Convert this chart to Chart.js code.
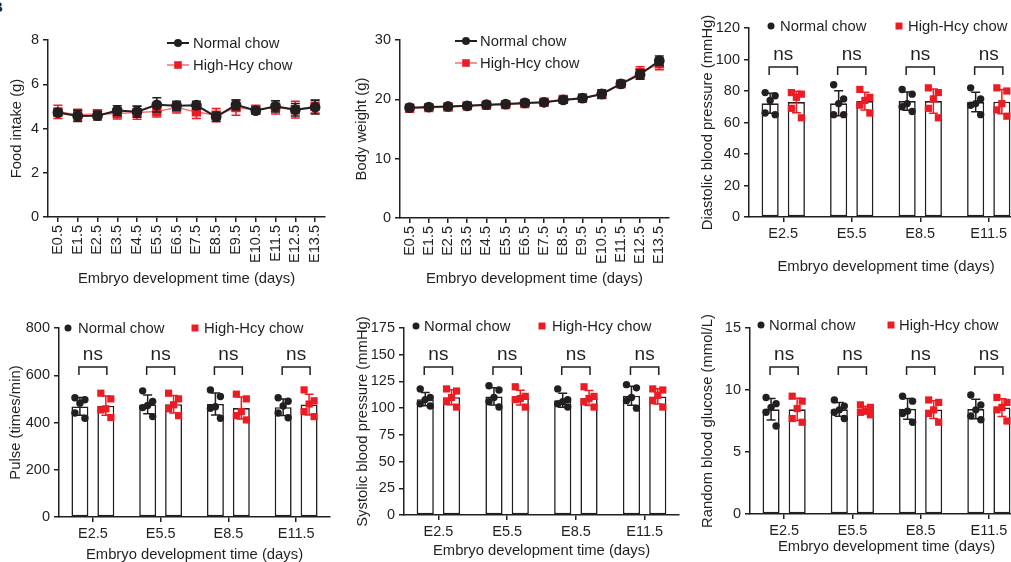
<!DOCTYPE html>
<html>
<head>
<meta charset="utf-8">
<script src="https://cdn.jsdelivr.net/npm/chart.js@4.4.0/dist/chart.umd.min.js"></script>
<style>
  body { margin: 0; width: 1011px; height: 562px; overflow: hidden; background: #fff; position: relative; font-family: "Liberation Sans", Arial, sans-serif; }
  canvas { position: absolute; }
  #panel-label { position: absolute; left: -8px; top: -2px; font-weight: bold; font-size: 15px; color: #231f20; }
</style>
</head>
<body>
<div id="panel-label">B</div>
<script>
// ---- data ----
const DAYS = ['E0.5', 'E1.5', 'E2.5', 'E3.5', 'E4.5', 'E5.5', 'E6.5', 'E7.5', 'E8.5', 'E9.5', 'E10.5', 'E11.5', 'E12.5', 'E13.5'];
const GROUPS = ['E2.5', 'E5.5', 'E8.5', 'E11.5'];
const SIGNIFICANCE = ['ns', 'ns', 'ns', 'ns'];

const FOOD_NORMAL = [4.72, 4.57, 4.58, 4.81, 4.76, 5.07, 5.03, 5.05, 4.53, 5.07, 4.81, 5.0, 4.85, 4.96];
const FOOD_NORMAL_SD = [0.15, 0.25, 0.2, 0.22, 0.25, 0.32, 0.2, 0.18, 0.2, 0.22, 0.15, 0.25, 0.28, 0.3];
const FOOD_HCY = [4.75, 4.62, 4.65, 4.68, 4.72, 4.77, 4.95, 4.75, 4.6, 4.95, 4.85, 4.95, 4.85, 5.0];
const FOOD_HCY_SD = [0.3, 0.25, 0.2, 0.25, 0.3, 0.25, 0.25, 0.3, 0.3, 0.35, 0.2, 0.3, 0.38, 0.3];

const WEIGHT_NORMAL = [18.6, 18.7, 18.8, 18.9, 19.1, 19.2, 19.4, 19.5, 19.9, 20.2, 20.9, 22.6, 24.2, 26.5];
const WEIGHT_NORMAL_SD = [0.4, 0.4, 0.4, 0.4, 0.4, 0.4, 0.4, 0.4, 0.5, 0.6, 0.7, 0.5, 0.8, 0.8];
const WEIGHT_HCY = [18.5, 18.6, 18.7, 18.9, 19.0, 19.1, 19.3, 19.5, 20.0, 20.2, 20.8, 22.6, 24.5, 26.0];
const WEIGHT_HCY_SD = [0.6, 0.5, 0.5, 0.5, 0.4, 0.4, 0.4, 0.4, 0.5, 0.5, 0.6, 0.5, 1.0, 1.0];

// five animals per group and day
const DIA_NORMAL = [[79, 77, 74, 66, 65], [84, 75, 72, 65, 65], [81, 78, 72, 70, 67], [82, 75, 72, 71, 65]];
const DIA_HCY = [[79, 78, 76, 69, 63], [81, 76, 74, 71, 66], [82, 79, 75, 69, 63], [82, 80, 72, 68, 64]];
const PULSE_NORMAL = [[505, 496, 482, 440, 418], [534, 489, 472, 463, 425], [538, 510, 467, 460, 418], [505, 490, 470, 440, 420]];
const PULSE_HCY = [[524, 500, 458, 453, 421], [524, 500, 475, 458, 429], [520, 500, 446, 429, 411], [538, 492, 478, 446, 425]];
const SYS_NORMAL = [[118, 110, 108, 104, 102], [121, 117, 110, 106, 101], [118, 108, 106, 104, 101], [122, 119, 110, 107, 100]];
const SYS_HCY = [[118, 116, 110, 106, 101], [120, 111, 109, 108, 101], [120, 111, 109, 106, 101], [118, 117, 112, 107, 101]];
const GLU_NORMAL = [[9.4, 8.9, 8.6, 8.2, 7.1], [9.2, 8.7, 8.4, 8.2, 7.7], [9.5, 9.1, 8.3, 8.1, 7.4], [9.6, 8.8, 8.4, 7.9, 7.6]];
const GLU_HCY = [[9.5, 9.1, 8.5, 7.7, 7.4], [8.8, 8.6, 8.3, 8.2, 8.0], [9.2, 9.0, 8.4, 8.1, 7.4], [9.4, 9.0, 8.6, 8.4, 7.5]];

// ---- styles ----
const INK = '#231f20';
const RED = '#ec1c24';
const PINK = '#f4777c';
const FONT = '"Liberation Sans", Arial, sans-serif';
const TICK_FONT = { family: FONT, size: 14.5 };
const TITLE_FONT = { family: FONT, size: 14.8, lineHeight: 1 };
const JITTER = [-5, 5, 0, -5, 5];
const X_TITLE = 'Embryo development time (days)';

function mean(v) { return v.reduce((a, b) => a + b, 0) / v.length; }
function stdev(v) {
  const m = mean(v);
  return Math.sqrt(v.reduce((a, b) => a + (b - m) ** 2, 0) / (v.length - 1));
}

function drawMarker(ctx, shape, x, y, color, r) {
  ctx.fillStyle = color;
  ctx.beginPath();
  if (shape === 'rect') ctx.rect(x - r, y - r, 2 * r, 2 * r);
  else ctx.arc(x, y, r, 0, Math.PI * 2);
  ctx.fill();
}

const errorBars = {
  id: 'errorBars',
  afterDatasetDraw(chart, args) {
    const ds = chart.data.datasets[args.index];
    const y = chart.scales.y;
    const ctx = chart.ctx;
    ctx.save();
    ctx.lineWidth = 1.5;
    ctx.strokeStyle = ds.whiskerColor;
    args.meta.data.forEach((el, i) => {
      const m = ds.data[i];
      const e = ds.points ? stdev(ds.points[i]) : ds.errors[i];
      const top = y.getPixelForValue(m + e), bottom = y.getPixelForValue(m - e);
      ctx.beginPath();
      ctx.moveTo(el.x, top); ctx.lineTo(el.x, bottom);
      ctx.moveTo(el.x - 4.5, top); ctx.lineTo(el.x + 4.5, top);
      ctx.moveTo(el.x - 4.5, bottom); ctx.lineTo(el.x + 4.5, bottom);
      ctx.stroke();
      if (ds.points) {
        ds.points[i].forEach((v, j) => {
          drawMarker(ctx, ds.markerShape, el.x + JITTER[j], y.getPixelForValue(v), ds.whiskerColor, ds.markerShape === 'rect' ? 3.6 : 3.7);
        });
      }
    });
    ctx.restore();
  }
};

const markLegend = {
  id: 'markLegend',
  afterDraw(chart, args, opts) {
    const ctx = chart.ctx;
    ctx.save();
    ctx.font = `14.8px ${FONT}`;
    ctx.textBaseline = 'middle';
    opts.items.forEach((it, i) => {
      const ds = chart.data.datasets[i];
      if (opts.withLine) {
        ctx.strokeStyle = ds.borderColor;
        ctx.lineWidth = ds.borderWidth;
        ctx.beginPath();
        ctx.moveTo(it.mx - 11, it.y); ctx.lineTo(it.mx + 11, it.y);
        ctx.stroke();
      }
      const r = opts.withLine ? (ds.markerShape === 'rect' ? 3.8 : 4) : 3.5;
      drawMarker(ctx, ds.markerShape, it.mx, it.y, ds.whiskerColor, r);
      ctx.fillStyle = INK;
      ctx.fillText(ds.label, it.tx, it.y + 1);
    });
    ctx.restore();
  }
};

const sigBrackets = {
  id: 'sigBrackets',
  afterDraw(chart) {
    const ctx = chart.ctx;
    const a = chart.getDatasetMeta(0), b = chart.getDatasetMeta(1);
    const y = chart.chartArea.top + 39;
    ctx.save();
    ctx.strokeStyle = INK;
    ctx.fillStyle = INK;
    ctx.lineWidth = 1.5;
    ctx.font = `19px ${FONT}`;
    ctx.textAlign = 'center';
    ctx.textBaseline = 'alphabetic';
    SIGNIFICANCE.forEach((label, i) => {
      const x1 = a.data[i].x - 1, x2 = b.data[i].x + 1;
      ctx.beginPath();
      ctx.moveTo(x1, y + 8); ctx.lineTo(x1, y); ctx.lineTo(x2, y); ctx.lineTo(x2, y + 8);
      ctx.stroke();
      ctx.fillText(label, (x1 + x2) / 2, y - 7);
    });
    ctx.restore();
  }
};

function makeCanvas(box) {
  const c = document.createElement('canvas');
  c.width = box.width;
  c.height = box.height;
  c.style.left = box.left + 'px';
  c.style.top = box.top + 'px';
  document.body.appendChild(c);
  return c;
}

function axisLines() {
  return {
    grid: { display: true, drawOnChartArea: false, drawTicks: true, tickLength: 5, color: INK, lineWidth: 1.5, offset: false },
    border: { display: true, color: INK, width: 1.5 }
  };
}

function options(box, y, rotate, legendItems, withLine) {
  return {
    responsive: false,
    animation: false,
    layout: { padding: { left: 0, top: box.area[1] - box.top, right: box.left + box.width - box.area[2], bottom: 0 } },
    scales: {
      x: {
        type: 'category', offset: true, ...axisLines(),
        ticks: { color: INK, font: TICK_FONT, padding: 3, autoSkip: false, minRotation: rotate, maxRotation: rotate },
        title: { display: true, text: X_TITLE, color: INK, font: TITLE_FONT, padding: { top: 0, bottom: box.xPad } },
        afterFit: s => { s.height = box.top + box.height - box.area[3]; }
      },
      y: {
        min: y.min, max: y.max, ...axisLines(),
        ticks: { stepSize: y.step, color: INK, font: TICK_FONT, padding: 4 },
        title: { display: true, text: y.title, color: INK, font: TITLE_FONT, padding: { top: box.yPad, bottom: 0 } },
        afterFit: s => { s.width = box.area[0] - box.left; }
      }
    },
    plugins: {
      legend: { display: false },
      tooltip: { enabled: false },
      markLegend: { items: legendItems, withLine }
    }
  };
}

function lineChart(box, normal, normalSd, hcy, hcySd, y, legendItems) {
  new Chart(makeCanvas(box), {
    type: 'line',
    data: {
      labels: DAYS,
      datasets: [
        { label: 'Normal chow', data: normal, errors: normalSd, borderColor: INK, borderWidth: 2, whiskerColor: INK, markerShape: 'circle',
          pointStyle: 'circle', pointRadius: 4.4, pointBackgroundColor: INK, pointBorderColor: INK, tension: 0 },
        { label: 'High-Hcy chow', data: hcy, errors: hcySd, borderColor: PINK, borderWidth: 1.6, whiskerColor: RED, markerShape: 'rect',
          pointStyle: 'rect', pointRadius: 5.5, pointBackgroundColor: RED, pointBorderColor: RED, tension: 0 }
      ]
    },
    options: options(box, y, 90, legendItems, true),
    plugins: [errorBars, markLegend]
  });
}

function barChart(box, normal, hcy, y, legendItems) {
  const bar = { backgroundColor: '#fff', borderColor: INK, borderWidth: 1.6, borderSkipped: false, categoryPercentage: 0.765, barPercentage: 0.654 };
  new Chart(makeCanvas(box), {
    type: 'bar',
    data: {
      labels: GROUPS,
      datasets: [
        { label: 'Normal chow', data: normal.map(mean), points: normal, whiskerColor: INK, markerShape: 'circle', ...bar },
        { label: 'High-Hcy chow', data: hcy.map(mean), points: hcy, whiskerColor: RED, markerShape: 'rect', ...bar }
      ]
    },
    options: options(box, y, 0, legendItems, false),
    plugins: [errorBars, markLegend, sigBrackets]
  });
}

lineChart({ left: 0, top: 0, width: 340, height: 290, area: [48, 40, 325, 217], yPad: 10, xPad: 3.5 },
  FOOD_NORMAL, FOOD_NORMAL_SD, FOOD_HCY, FOOD_HCY_SD,
  { min: 0, max: 8, step: 2, title: 'Food intake (g)' },
  [{ mx: 178, tx: 193, y: 43 }, { mx: 178, tx: 193, y: 65 }]);

lineChart({ left: 340, top: 0, width: 340, height: 290, area: [400, 40, 672, 218], yPad: 14.5, xPad: 3.5 },
  WEIGHT_NORMAL, WEIGHT_NORMAL_SD, WEIGHT_HCY, WEIGHT_HCY_SD,
  { min: 0, max: 30, step: 10, title: 'Body weight (g)' },
  [{ mx: 126, tx: 140, y: 41 }, { mx: 126, tx: 140, y: 63 }]);

barChart({ left: 680, top: 0, width: 350, height: 290, area: [749, 28, 1023, 217], yPad: 20.5, xPad: 15.5 },
  DIA_NORMAL, DIA_HCY,
  { min: 0, max: 120, step: 20, title: 'Diastolic blood pressure (mmHg)' },
  [{ mx: 91, tx: 100, y: 26 }, { mx: 219, tx: 228, y: 26 }]);

barChart({ left: 0, top: 290, width: 340, height: 272, area: [59, 328, 330, 517], yPad: 8.5, xPad: 0 },
  PULSE_NORMAL, PULSE_HCY,
  { min: 0, max: 800, step: 200, title: 'Pulse (times/min)' },
  [{ mx: 68, tx: 78, y: 38 }, { mx: 195, tx: 204, y: 38 }]);

barChart({ left: 340, top: 290, width: 340, height: 272, area: [404, 328, 679, 515], yPad: 15.5, xPad: 3.5 },
  SYS_NORMAL, SYS_HCY,
  { min: 0, max: 175, step: 25, title: 'Systolic blood pressure (mmHg)' },
  [{ mx: 76, tx: 84, y: 36 }, { mx: 202, tx: 212, y: 36 }]);

barChart({ left: 680, top: 290, width: 350, height: 272, area: [750, 328, 1023, 514], yPad: 20.5, xPad: 7.5 },
  GLU_NORMAL, GLU_HCY,
  { min: 0, max: 15, step: 5, title: 'Random blood glucose (mmol/L)' },
  [{ mx: 81, tx: 89, y: 35 }, { mx: 211, tx: 219, y: 35 }]);
</script>
</body>
</html>
